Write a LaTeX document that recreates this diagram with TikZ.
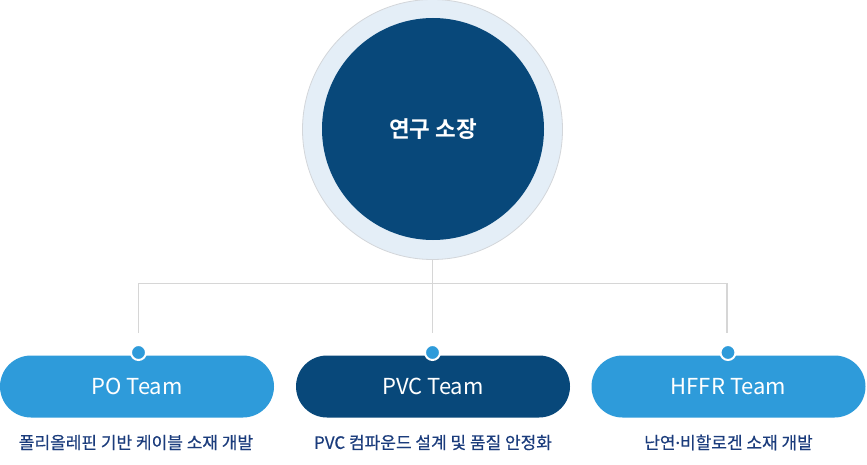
\documentclass[tikz,border=0pt]{standalone}
\usetikzlibrary{shapes.misc}
\usepackage{fontspec}
\setmainfont{Noto Sans CJK KR}
\newfontfamily\krmed[FakeBold=0.5]{Noto Sans CJK KR}
\newfontfamily\krbold{Noto Sans CJK KR Bold}
\newfontfamily\latdot[FakeBold=0.5]{Noto Sans}
\definecolor{navy}{HTML}{08487A}
\definecolor{sky}{HTML}{2E9BDA}
\definecolor{ring}{HTML}{E4EEF7}
\definecolor{ringline}{HTML}{D3D6DA}
\definecolor{conn}{HTML}{D6D6D6}
\definecolor{labtxt}{HTML}{1B3C7C}
\begin{document}
\begin{tikzpicture}[x=1pt,y=-1pt,
  pill/.style={rounded rectangle,minimum width=274pt,minimum height=62pt,inner sep=0pt,text=white,font=\fontsize{22}{26}\selectfont},
  lab/.style={text=labtxt,font=\krmed\fontsize{17}{20}\selectfont,inner sep=0pt},
  conline/.style={draw=conn,line width=1.8pt},
  dot/.style={circle,fill=sky,draw=white,line width=2pt,minimum size=15pt,inner sep=0pt}]
\useasboundingbox (0,0) rectangle (867,465);
\node[circle,fill=ring,draw=ringline,line width=0.8pt,minimum size=260pt,inner sep=0pt] (outer) at (432.5,129.5) {};
\node[circle,fill=navy,minimum size=222pt,inner sep=0pt,text=white,font=\krbold\fontsize{22.5}{26}\selectfont] (boss) at (433,129) {연구 소장};
\coordinate (lft) at (138.5,283.5);
\coordinate (rgt) at (727,283.5);
\coordinate (e1) at (138.5,333);
\coordinate (e2) at (432.5,333);
\coordinate (e3) at (727,333);
\draw[conline] (outer.south) -- (e2);
\draw[conline] (e1) -- (lft) -- (rgt) -- (e3);
\node[pill,fill=sky] (po) at (137,386.5) {PO Team};
\node[pill,fill=navy] (pvc) at (433,386.5) {PVC Team};
\node[pill,fill=sky] (hffr) at (728.5,386.5) {HFFR Team};
\node[dot] (d1) at (138.5,352.5) {};
\node[dot] (d2) at (432.5,352.5) {};
\node[dot] (d3) at (728,352.5) {};
\node[lab] (l1) at (136,442.5) {폴리올레핀 기반 케이블 소재 개발};
\node[lab] (l2) at (433,442.5) {PVC 컴파운드 설계 및 품질 안정화};
\node[lab] (l3) at (728.5,442.5) {난연{\latdot ·}비할로겐 소재 개발};
\end{tikzpicture}
\end{document}
